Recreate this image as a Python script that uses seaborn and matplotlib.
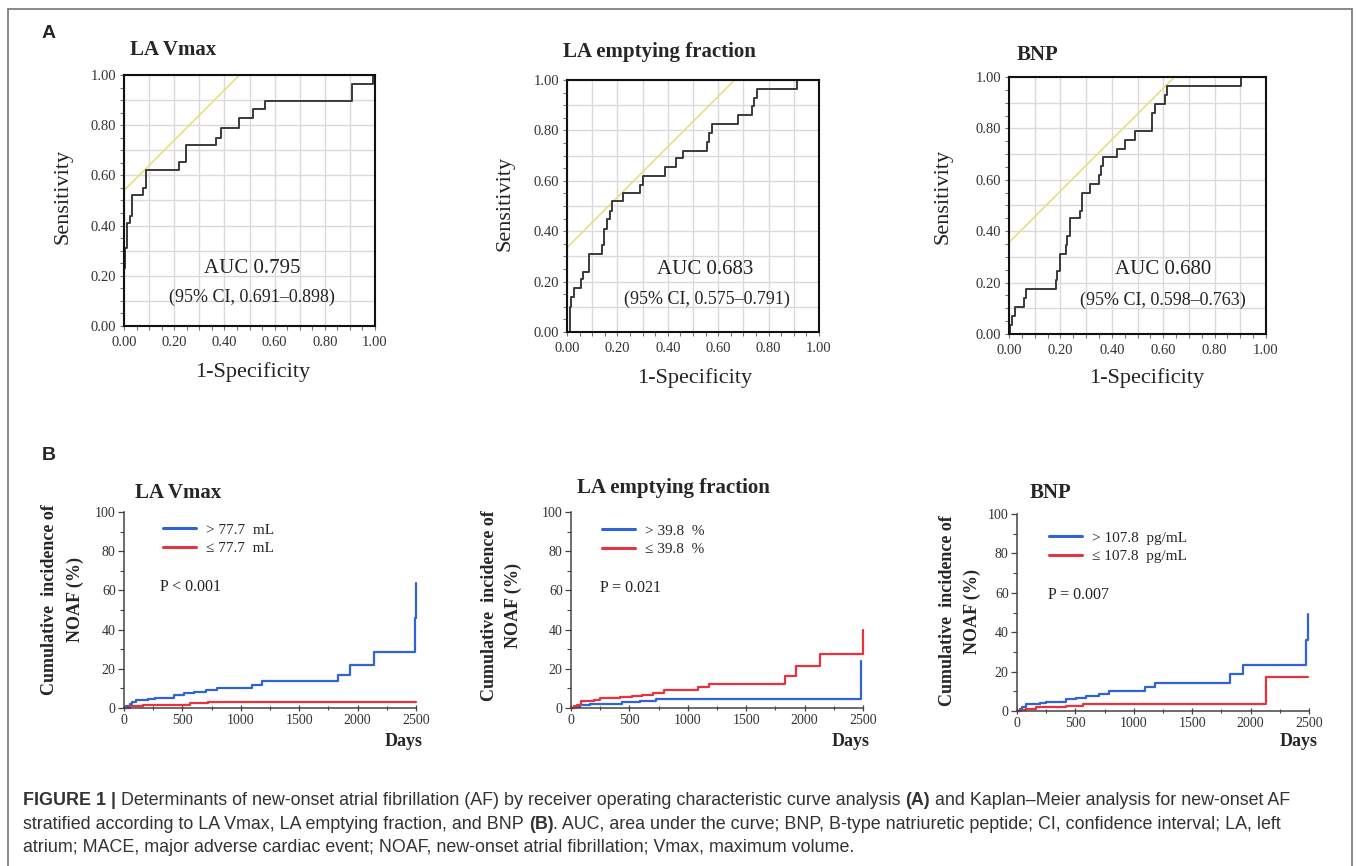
import matplotlib
matplotlib.use("Agg")
import matplotlib.pyplot as plt
import seaborn as sns
import pandas as pd
from matplotlib import ticker
from matplotlib.lines import Line2D

W, H = 1357, 866
SERIF = "Liberation Serif"
SANS = "Liberation Sans"

# ---- panel A: ROC curves (1-specificity where the step rises, sensitivity after it)
roc_titles = ["LA Vmax", "LA emptying fraction", "BNP"]
roc_auc = ["AUC 0.795", "AUC 0.683", "AUC 0.680"]
roc_ci = ["(95% CI, 0.691–0.898)", "(95% CI, 0.575–0.791)", "(95% CI, 0.598–0.763)"]
roc_tangent = [0.54, 0.335, 0.356]

lavmax_fpr = [0, 0, 0.005, 0.013, 0.025, 0.03, 0.076, 0.086, 0.22, 0.246, 0.368,
              0.388, 0.459, 0.512, 0.561, 0.907, 0.993]
lavmax_tpr = [0, 0.23, 0.31, 0.41, 0.44, 0.52, 0.55, 0.62, 0.655, 0.72, 0.75,
              0.79, 0.83, 0.865, 0.895, 0.965, 1.0]

laef_fpr = [0, 0.011, 0.016, 0.026, 0.055, 0.063, 0.088, 0.139, 0.148, 0.158, 0.169,
            0.178, 0.224, 0.288, 0.303, 0.389, 0.433, 0.459, 0.554, 0.565, 0.577,
            0.68, 0.736, 0.743, 0.752, 0.913]
laef_tpr = [0, 0.10, 0.14, 0.175, 0.21, 0.24, 0.31, 0.345, 0.41, 0.45, 0.48,
            0.52, 0.55, 0.585, 0.62, 0.655, 0.69, 0.72, 0.755, 0.79, 0.825,
            0.86, 0.895, 0.93, 0.965, 1.0]

bnp_fpr = [0, 0.004, 0.013, 0.023, 0.06, 0.066, 0.183, 0.188, 0.198, 0.22, 0.224,
           0.237, 0.276, 0.283, 0.315, 0.351, 0.359, 0.367, 0.419, 0.451, 0.49,
           0.558, 0.568, 0.607, 0.613, 0.901]
bnp_tpr = [0, 0.035, 0.07, 0.105, 0.14, 0.175, 0.21, 0.245, 0.31, 0.345, 0.38,
           0.45, 0.48, 0.55, 0.585, 0.62, 0.655, 0.69, 0.72, 0.755, 0.79,
           0.86, 0.895, 0.93, 0.965, 1.0]

# ---- panel B: Kaplan-Meier cumulative incidence (day of step, % after it)
km_groups = [["> 77.7  mL", "≤ 77.7  mL"],
             ["> 39.8  %", "≤ 39.8  %"],
             ["> 107.8  pg/mL", "≤ 107.8  pg/mL"]]
km_pvalues = ["P < 0.001", "P = 0.021", "P = 0.007"]

lavmax_hi_days = [0, 20, 49, 72, 100, 206, 263, 426, 512, 600, 706, 792, 1098, 1178,
                  1836, 1936, 2137, 2490, 2500]
lavmax_hi_pct = [0, 1.0, 2.0, 3.0, 3.9, 4.6, 5.1, 6.8, 7.6, 8.4, 9.3, 10.2, 11.9, 13.6,
                 17.0, 22.0, 28.5, 46.0, 64.0]
lavmax_lo_days = [0, 49, 163, 563, 721, 2500]
lavmax_lo_pct = [0, 0.8, 1.5, 2.3, 3.2, 3.2]

laef_hi_days = [0, 23, 80, 165, 436, 592, 726, 2486]
laef_hi_pct = [0, 0.5, 1.3, 2.0, 3.0, 3.8, 4.5, 24.0]
laef_lo_days = [0, 23, 51, 85, 194, 250, 421, 521, 606, 706, 792, 1090, 1185, 1831,
                1930, 2130, 2500]
laef_lo_pct = [0, 1.0, 1.5, 3.7, 4.3, 4.9, 5.5, 6.1, 6.8, 7.7, 9.0, 10.5, 12.2, 16.5,
               21.6, 27.3, 39.6]

bnp_hi_days = [0, 23, 46, 80, 194, 251, 422, 508, 594, 699, 785, 1093, 1179, 1821,
               1935, 2477, 2491]
bnp_hi_pct = [0, 1.0, 2.0, 3.5, 4.1, 4.7, 5.9, 6.6, 7.4, 8.7, 10.3, 12.2, 14.2, 18.8,
              23.4, 36.0, 49.0]
bnp_lo_days = [0, 37, 80, 166, 422, 565, 2135, 2491]
bnp_lo_pct = [0, 0.5, 1.0, 1.9, 2.7, 3.5, 17.2, 17.2]

roc_data = [(lavmax_fpr, lavmax_tpr), (laef_fpr, laef_tpr), (bnp_fpr, bnp_tpr)]
km_data = [(lavmax_hi_days, lavmax_hi_pct, lavmax_lo_days, lavmax_lo_pct),
           (laef_hi_days, laef_hi_pct, laef_lo_days, laef_lo_pct),
           (bnp_hi_days, bnp_hi_pct, bnp_lo_days, bnp_lo_pct)]

caption_lines = [
    [("FIGURE 1 | ", "bold"),
     ("Determinants of new-onset atrial fibrillation (AF) by receiver operating "
      "characteristic curve analysis ", "normal"),
     ("(A)", "bold"),
     (" and Kaplan–Meier analysis for new-onset AF", "normal")],
    [("stratified according to LA Vmax, LA emptying fraction, and BNP ", "normal"),
     ("(B)", "bold"),
     (". AUC, area under the curve; BNP, B-type natriuretic peptide; CI, confidence "
      "interval; LA, left", "normal")],
    [("atrium; MACE, major adverse cardiac event; NOAF, new-onset atrial fibrillation; "
      "Vmax, maximum volume.", "normal")],
]

# pixel layouts (left, top, right, bottom) and text anchors
roc_boxes = [(124, 75, 375, 326), (567, 80, 819, 332), (1009, 77, 1266, 334)]
roc_title_xy = [(130, 50), (563, 52), (1017, 55)]
roc_ylabel_xy = [(63, 196), (505, 203), (943, 196)]
roc_xlabel_xy = [(253, 372), (695, 378), (1147, 378)]
roc_auc_xy = [(252, 268), (705, 269), (1163, 270)]
roc_ci_xy = [(252, 297), (707, 299), (1163, 300)]

km_boxes = [(124, 512, 416, 708), (571, 512, 863, 708), (1017, 514, 1309, 711)]
km_title_xy = [(135, 493), (577, 488), (1030, 493)]
km_ylabel_x = [(50, 75), (490, 513), (947, 972)]
km_ylabel_y = [600, 606, 611]
km_days_xy = [(423, 742), (870, 742), (1318, 742)]
km_legend_xy = [(163, 523), (602, 524), (1049, 531)]
km_p_xy = [(160, 587), (600, 588), (1048, 595)]

BLUE = "#2f63d8"
RED = "#e8323c"


def px(x, y):
    return x / W, 1 - y / H


def add_axes_px(fig, box):
    left, top, right, bottom = box
    return fig.add_axes([left / W, 1 - bottom / H, (right - left) / W, (bottom - top) / H])


def roc_tick_label(v, pos):
    if round(v * 10) % 2 == 0:
        return f"{v:.2f}"
    return ""


sns.set_style("white")
plt.rcParams["font.family"] = [SERIF, "DejaVu Serif"]

fig = plt.figure(figsize=(W / 100, H / 100), dpi=100)

# ---------------- ROC panels
for i in range(3):
    ax = add_axes_px(fig, roc_boxes[i])
    fpr, tpr = roc_data[i]
    ax.axline((0, roc_tangent[i]), slope=1, color="#e6df78", lw=1.1, zorder=2)
    sns.lineplot(x=fpr, y=tpr, ax=ax, color="#3a3a3a", lw=1.4, drawstyle="steps-post",
                 estimator=None, sort=False, zorder=3)
    ax.set_xlim(0, 1)
    ax.set_ylim(0, 1)
    for axis in (ax.xaxis, ax.yaxis):
        axis.set_major_locator(ticker.MultipleLocator(0.1))
        axis.set_minor_locator(ticker.MultipleLocator(0.05))
        axis.set_major_formatter(ticker.FuncFormatter(roc_tick_label))
    ax.grid(True, which="major", color="#dadada", lw=1.0)
    ax.tick_params(which="both", direction="out", length=3, width=0.8, color="#777777",
                   labelsize=10.5, labelcolor="#333333", pad=2.5,
                   bottom=True, left=True)
    ax.tick_params(axis="x", pad=4)
    for s in ax.spines.values():
        s.set_color("#111111")
        s.set_linewidth(1.5)
        s.set_zorder(4)
    ax.set_xlabel("")
    ax.set_ylabel("")
    fig.text(*px(*roc_title_xy[i]), roc_titles[i], fontsize=15, fontweight="bold",
             ha="left", va="center")
    fig.text(*px(*roc_ylabel_xy[i]), "Sensitivity", fontsize=16, rotation=90,
             ha="center", va="center", color="#222222")
    fig.text(*px(*roc_xlabel_xy[i]), "1-Specificity", fontsize=16,
             ha="center", va="center", color="#222222")
    fig.text(*px(*roc_auc_xy[i]), roc_auc[i], fontsize=15, ha="center", va="center",
             color="#222222")
    fig.text(*px(*roc_ci_xy[i]), roc_ci[i], fontsize=13, ha="center", va="center",
             color="#222222")

# ---------------- Kaplan-Meier panels
for i in range(3):
    ax = add_axes_px(fig, km_boxes[i])
    hi_d, hi_p, lo_d, lo_p = km_data[i]
    df = pd.DataFrame({
        "days": hi_d + lo_d,
        "pct": hi_p + lo_p,
        "group": [km_groups[i][0]] * len(hi_d) + [km_groups[i][1]] * len(lo_d),
    })
    sns.lineplot(data=df, x="days", y="pct", hue="group", hue_order=km_groups[i],
                 palette=[BLUE, RED], drawstyle="steps-post", estimator=None,
                 lw=1.6, ax=ax, clip_on=False)
    ax.set_xlim(0, 2500)
    ax.set_ylim(0, 100)
    ax.xaxis.set_major_locator(ticker.MultipleLocator(500))
    ax.xaxis.set_minor_locator(ticker.MultipleLocator(250))
    ax.yaxis.set_major_locator(ticker.MultipleLocator(20))
    ax.yaxis.set_minor_locator(ticker.MultipleLocator(10))
    ax.tick_params(axis="y", which="both", direction="out", left=True)
    ax.tick_params(axis="x", which="both", direction="inout", bottom=True)
    ax.tick_params(which="major", length=4, width=0.9, color="#444444",
                   labelsize=10, labelcolor="#333333", pad=2)
    ax.tick_params(which="minor", length=3, width=0.8, color="#444444")
    for side in ("top", "right"):
        ax.spines[side].set_visible(False)
    for side in ("left", "bottom"):
        ax.spines[side].set_color("#444444")
        ax.spines[side].set_linewidth(1.1)
    ax.set_xlabel("")
    ax.set_ylabel("")
    handles, labels = ax.get_legend_handles_labels()
    leg = ax.legend(handles, labels, loc="upper left",
                    bbox_to_anchor=px(*km_legend_xy[i]), bbox_transform=fig.transFigure,
                    frameon=False, borderpad=0, borderaxespad=0, handlelength=2.15,
                    handletextpad=0.65, labelspacing=0.3, prop={"family": SERIF, "size": 11})
    for h in leg.legend_handles:
        h.set_linewidth(2.2)
    fig.text(*px(*km_title_xy[i]), roc_titles[i], fontsize=15, fontweight="bold",
             ha="left", va="center")
    x1, x2 = km_ylabel_x[i]
    fig.text(*px(x1, km_ylabel_y[i]), "Cumulative  incidence of", fontsize=13,
             fontweight="bold", rotation=90, ha="center", va="center")
    fig.text(*px(x2, km_ylabel_y[i]), "NOAF (%)", fontsize=13,
             fontweight="bold", rotation=90, ha="center", va="center")
    fig.text(*px(*km_days_xy[i]), "Days", fontsize=13, fontweight="bold",
             ha="right", va="center")
    fig.text(*px(*km_p_xy[i]), km_pvalues[i], fontsize=11.5, ha="left", va="center",
             color="#222222")

# panel letters
fig.text(*px(42, 34), "A", fontsize=14, fontweight="bold", family=SANS,
         ha="left", va="center")
fig.text(*px(42, 455), "B", fontsize=14, fontweight="bold", family=SANS,
         ha="left", va="center")

# border around the figure
border = dict(color="#777777", lw=1.2, transform=fig.transFigure)
fig.add_artist(Line2D([8 / W, 8 / W], [0, 1 - 9 / H], **border))
fig.add_artist(Line2D([8 / W, 1352 / W], [1 - 9 / H, 1 - 9 / H], **border))
fig.add_artist(Line2D([1352 / W, 1352 / W], [0, 1 - 9 / H], **border))

# caption with bold fragments, laid out piece by piece
renderer = fig.canvas.get_renderer()


def text_width(s, weight, size):
    t = fig.text(0, 0, s, family=SANS, fontweight=weight, fontsize=size)
    w = t.get_window_extent(renderer).width
    t.remove()
    return w


def draw_rich(x, y, pieces, size, draw=True):
    x0 = x
    for s, weight in pieces:
        space = text_width("x x", weight, size) - text_width("xx", weight, size)
        lead = len(s) - len(s.lstrip(" "))
        trail = len(s) - len(s.rstrip(" "))
        x += lead * space
        core = s.strip(" ")
        if draw:
            fig.text(*px(x, y), core, family=SANS, fontweight=weight, fontsize=size,
                     color="#333333", ha="left", va="baseline")
        x += text_width(core, weight, size) + trail * space
    return x - x0


cap_size = 12.0
cap_size = cap_size * 1272 / draw_rich(23, 0, caption_lines[0], cap_size, draw=False)

for line, y in zip(caption_lines, [805, 829, 852]):
    draw_rich(23, y, line, cap_size)

fig.savefig("out.png", dpi=100)
